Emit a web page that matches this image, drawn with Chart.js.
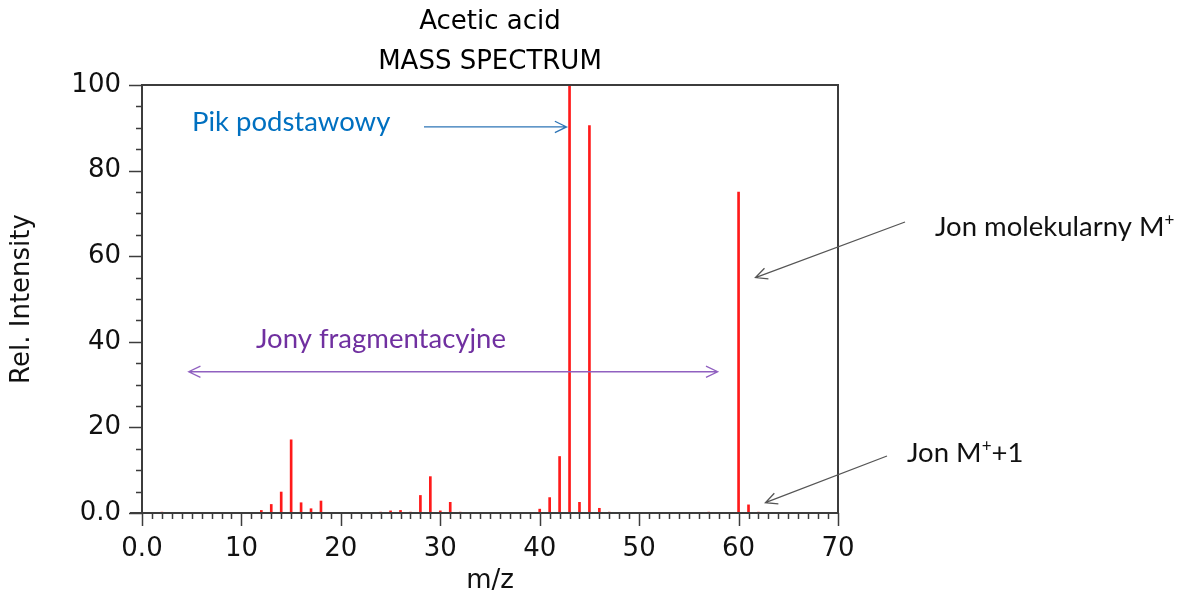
<!DOCTYPE html>
<html>
<head>
<meta charset="utf-8">
<script src="https://cdn.jsdelivr.net/npm/chart.js@4.4.1/dist/chart.umd.min.js"></script>
<style>
    html, body { margin: 0; padding: 0; background: #fff; }
    #wrap { width: 1178px; height: 594px; }
</style>
</head>
<body>
<div id="wrap"><canvas id="ms"></canvas></div>
<script>
// Acetic acid EI mass spectrum
var mzValues = [2, 12, 13, 14, 15, 16, 17, 18, 24, 25, 26, 27, 28, 29, 30, 31, 32,
                40, 41, 42, 43, 44, 45, 46, 47, 55, 57, 60, 61, 62];
var relIntensity = [0.2, 0.6, 2.0, 4.9, 17.1, 2.4, 1.0, 2.8, 0.2, 0.5, 0.6, 0.2, 4.1, 8.5, 0.5, 2.5, 0.2,
                    0.9, 3.6, 13.2, 100, 2.5, 90.5, 1.1, 0.2, 0.1, 0.2, 75, 1.9, 0.2];
var titleLines = ['Acetic acid', 'MASS SPECTRUM'];
var xMajorLabels = [0, 10, 20, 30, 40, 50, 60, 70];
var yMajorLabels = [0, 20, 40, 60, 80, 100];

var axisFont = '"DejaVu Sans", Verdana, sans-serif';
var noteFont = 'Lato, "Open Sans", sans-serif';
var noteSize = 27.5;
var frameColor = '#3c3c3c';

function fmtTick(v) {
    return v === 0 ? '0.0' : String(v);
}

// Frame, tick marks and title drawn around the chart area
var framePlugin = {
    id: 'frame',
    afterDraw: function(chart) {
        var ctx = chart.ctx, a = chart.chartArea;
        var xs = chart.scales.x, ys = chart.scales.y;
        ctx.save();
        ctx.strokeStyle = frameColor;
        ctx.lineWidth = 2;
        ctx.beginPath();
        ctx.moveTo(a.left, a.top);
        ctx.lineTo(a.right, a.top);
        ctx.lineTo(a.right, a.bottom);
        ctx.moveTo(a.left, a.top - 1);
        ctx.lineTo(a.left, a.bottom);
        ctx.moveTo(a.left - 12, a.bottom);
        ctx.lineTo(a.right, a.bottom);
        ctx.stroke();

        ctx.lineWidth = 1.5;
        ctx.beginPath();
        xs.ticks.forEach(function(t) {
            var px = Math.round(xs.getPixelForValue(t.value)) + 0.5;
            var len = t.value % 10 === 0 ? 13 : 6;
            ctx.moveTo(px, a.bottom);
            ctx.lineTo(px, a.bottom + len);
        });
        ys.ticks.forEach(function(t) {
            var py = Math.round(ys.getPixelForValue(t.value)) + 0.5;
            var len = t.value % 20 === 0 ? 13 : 6;
            ctx.moveTo(a.left, py);
            ctx.lineTo(a.left - len, py);
        });
        ctx.stroke();

        // title
        ctx.fillStyle = '#000';
        ctx.font = '26px ' + axisFont;
        ctx.textAlign = 'center';
        ctx.textBaseline = 'middle';
        var cx = (a.left + a.right) / 2;
        ctx.fillText(titleLines[0], cx, 22);
        ctx.fillText(titleLines[1], cx, 62);
        ctx.restore();
    }
};

function arrowHead(ctx, x1, y1, x2, y2, size) {
    var ang = Math.atan2(y2 - y1, x2 - x1);
    ctx.moveTo(x2 - size * Math.cos(ang - 0.45), y2 - size * Math.sin(ang - 0.45));
    ctx.lineTo(x2, y2);
    ctx.lineTo(x2 - size * Math.cos(ang + 0.45), y2 - size * Math.sin(ang + 0.45));
}

function drawArrow(ctx, x1, y1, x2, y2, color, both) {
    ctx.strokeStyle = color;
    ctx.lineWidth = 1.3;
    ctx.beginPath();
    ctx.moveTo(x1, y1);
    ctx.lineTo(x2, y2);
    arrowHead(ctx, x1, y1, x2, y2, 13);
    if (both) arrowHead(ctx, x2, y2, x1, y1, 13);
    ctx.stroke();
}

// Text with a raised small "+"
function drawSupText(ctx, parts, x, y, size) {
    var cur = x;
    parts.forEach(function(p) {
        if (p.sup) {
            ctx.font = Math.round(size * 0.6) + 'px ' + noteFont;
            ctx.fillText(p.text, cur, y - size * 0.38);
        } else {
            ctx.font = size + 'px ' + noteFont;
            ctx.fillText(p.text, cur, y);
        }
        cur += ctx.measureText(p.text).width;
    });
}

// Polish labels and arrows
var notesPlugin = {
    id: 'notes',
    afterDraw: function(chart) {
        var ctx = chart.ctx;
        var xs = chart.scales.x, ys = chart.scales.y;
        function X(v) { return xs.getPixelForValue(v); }
        function Y(v) { return ys.getPixelForValue(v); }
        ctx.save();
        ctx.textBaseline = 'alphabetic';
        ctx.textAlign = 'left';

        ctx.fillStyle = '#0070c0';
        ctx.font = noteSize + 'px ' + noteFont;
        ctx.fillText('Pik podstawowy', 192, 131);
        drawArrow(ctx, 424, Y(90.2), X(42.7), Y(90.2), '#2e75b6', false);

        ctx.fillStyle = '#7030a0';
        ctx.font = noteSize + 'px ' + noteFont;
        ctx.fillText('Jony fragmentacyjne', 256, 348);
        drawArrow(ctx, X(4.7), Y(33), X(57.9), Y(33), '#9060c0', true);

        ctx.fillStyle = '#111';
        drawSupText(ctx, [{ text: 'Jon molekularny M' }, { text: '+', sup: true }], 935, 236, noteSize);
        drawArrow(ctx, 905, 222, X(61.7), Y(55), '#555', false);

        drawSupText(ctx, [{ text: 'Jon M' }, { text: '+', sup: true }, { text: '+1' }], 907, 462, noteSize);
        drawArrow(ctx, 887, 456, X(62.7), Y(2.4), '#555', false);
        ctx.restore();
    }
};

var points = mzValues.map(function(m, i) { return { x: m, y: relIntensity[i] }; });

new Chart(document.getElementById('ms'), {
    type: 'bar',
    data: {
        datasets: [{
            data: points,
            backgroundColor: '#ff1a1a',
            borderWidth: 0,
            barThickness: 2
        }]
    },
    options: {
        responsive: true,
        maintainAspectRatio: false,
        animation: false,
        layout: { padding: { left: 0, right: 340, top: 85, bottom: 0 } },
        plugins: {
            legend: { display: false },
            tooltip: { enabled: false },
            title: { display: false }
        },
        scales: {
            x: {
                type: 'linear',
                min: 0,
                max: 70,
                offset: false,
                grid: { display: false },
                border: { display: false },
                afterFit: function(s) { s.height = 81; },
                ticks: {
                    stepSize: 1,
                    autoSkip: false,
                    maxRotation: 0,
                    padding: 13,
                    color: '#111',
                    font: { family: axisFont, size: 26 },
                    callback: function(v) {
                        return xMajorLabels.indexOf(v) >= 0 ? fmtTick(v) : '';
                    }
                },
                title: {
                    display: true,
                    text: 'm/z',
                    color: '#111',
                    font: { family: axisFont, size: 26, lineHeight: 1 },
                    padding: { top: 0, bottom: 0 }
                }
            },
            y: {
                min: 0,
                max: 100,
                grid: { display: false },
                border: { display: false },
                afterFit: function(s) { s.width = 142; },
                ticks: {
                    stepSize: 5,
                    autoSkip: false,
                    padding: 13,
                    color: '#111',
                    font: { family: axisFont, size: 26 },
                    callback: function(v) {
                        return yMajorLabels.indexOf(v) >= 0 ? fmtTick(v) : '';
                    }
                },
                title: {
                    display: true,
                    text: 'Rel. Intensity',
                    color: '#111',
                    font: { family: axisFont, size: 26, lineHeight: 1 },
                    padding: { top: 9, bottom: 0 }
                }
            }
        }
    },
    plugins: [framePlugin, notesPlugin]
});
</script>
</body>
</html>
